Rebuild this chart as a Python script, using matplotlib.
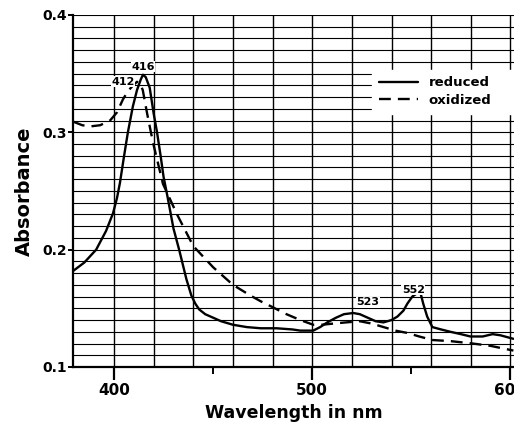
import numpy as np
import matplotlib.pyplot as plt

# reduced (solid)
red_nm = [379.5, 385, 391, 396, 399.5, 401.5, 403, 405, 407, 409.5, 411.6, 413.5, 414.6, 416, 418, 420, 421.7, 423.5, 425,
          427, 430, 433, 436.5, 439, 441, 443, 446, 450, 454, 460, 467, 474, 482, 490, 494, 500.5, 504, 507.6, 512, 516,
          520.7, 524, 528, 532, 535.9, 540, 543, 546, 548, 550.5, 553, 554.8, 556, 558, 560.6, 565, 569.7, 575, 579.8,
          586, 591, 595, 601.5]
red_abs = [0.182, 0.189, 0.200, 0.216, 0.231, 0.244, 0.257, 0.279, 0.300, 0.322, 0.336, 0.345, 0.349, 0.347, 0.338, 0.316,
           0.300, 0.280, 0.262, 0.245, 0.218, 0.199, 0.175, 0.161, 0.154, 0.149, 0.145, 0.142, 0.139, 0.136, 0.134, 0.133,
           0.133, 0.132, 0.131, 0.131, 0.134, 0.138, 0.142, 0.145, 0.146, 0.145, 0.142, 0.139, 0.138, 0.140, 0.143, 0.148,
           0.154, 0.160, 0.163, 0.162, 0.154, 0.143, 0.134, 0.132, 0.130, 0.128, 0.126, 0.126, 0.128, 0.127, 0.124]

# oxidized (dashed)
ox_nm = [379.5, 384, 388, 393, 398, 401.5, 404.5, 407, 409.6, 411.6, 413, 414.5, 416.7, 419.7, 424.7, 431.8, 440, 450, 460,
         468.7, 474, 480, 487, 494, 500.5, 505, 510.6, 517, 524, 530, 536, 542, 548, 554, 560.6, 570, 581, 590, 601.5]
ox_abs = [0.309, 0.306, 0.305, 0.306, 0.310, 0.317, 0.328, 0.335, 0.340, 0.343, 0.342, 0.336, 0.316, 0.291, 0.256, 0.230,
          0.203, 0.185, 0.170, 0.161, 0.156, 0.151, 0.145, 0.140, 0.136, 0.136, 0.137, 0.138, 0.139, 0.137, 0.134, 0.131,
          0.129, 0.126, 0.123, 0.122, 0.120, 0.118, 0.114]

peak_labels = ['416', '412', '523', '552']
peak_pos = [(414.6, 0.356), (404.5, 0.343), (528, 0.155), (551, 0.166)]

fig = plt.figure(figsize=(5.14, 4.26), dpi=100)
ax = fig.add_axes([0.142, 0.1385, 0.858, 0.8265])

xmin, xmax = 379.3, 601.8
ymin, ymax = 0.1, 0.4
ax.set_xlim(xmin, xmax)
ax.set_ylim(ymin, ymax)

# graph paper grid
ax.vlines(np.arange(400, 601, 20), ymin, ymax, color='black', lw=1.0, zorder=1)
ax.hlines(np.arange(0.11, 0.401, 0.01), xmin, xmax, color='black', lw=0.8, zorder=1)

ax.plot(red_nm, red_abs, color='black', lw=1.7, solid_capstyle='round', label='reduced', zorder=3)
ax.plot(ox_nm, ox_abs, color='black', lw=1.7, dashes=(5, 3), label='oxidized', zorder=3)

for txt, (px, py) in zip(peak_labels, peak_pos):
    ax.text(px, py, txt, fontsize=8, fontweight='bold', ha='center', va='center', zorder=4,
            bbox=dict(facecolor='white', edgecolor='none', pad=0.3))

leg = ax.legend(loc='upper left', bbox_to_anchor=(0.678, 0.71, 0.33, 0.134), mode='expand', borderaxespad=0,
                frameon=True, fancybox=False, facecolor='white', edgecolor='white', framealpha=1,
                handlelength=3.0, prop={'weight': 'bold', 'size': 9.5}, borderpad=0.5, labelspacing=0.35,
                handletextpad=0.8)
leg.set_zorder(5)

for side in ['top', 'right']:
    ax.spines[side].set_visible(False)
ax.spines['left'].set_linewidth(1.6)
ax.spines['bottom'].set_linewidth(1.6)

ax.set_xticks([400, 500, 600])
ax.set_xticks([450, 550], minor=True)
ax.set_yticks([0.1, 0.2, 0.3, 0.4])
ax.set_yticklabels(['0.1', '0.2', '0.3', '0.4'])
ax.tick_params(axis='x', which='major', length=9.5, width=1.6, labelsize=11, pad=2)
ax.tick_params(axis='x', which='minor', length=5, width=1.4)
ax.tick_params(axis='y', which='major', length=3.5, width=1.4, labelsize=10, pad=1)
for lab in ax.get_xticklabels() + ax.get_yticklabels():
    lab.set_fontweight('bold')

ax.set_xlabel('Wavelength in nm', fontsize=12.5, fontweight='bold', labelpad=4)
ax.set_ylabel('Absorbance', fontsize=14, fontweight='bold', labelpad=6)

plt.savefig('out.png', dpi=100)
